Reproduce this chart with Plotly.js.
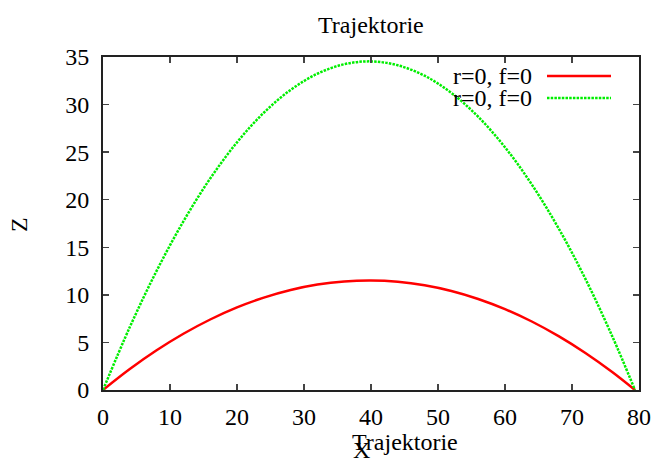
<!DOCTYPE html>
<html>
<head>
<meta charset="utf-8">
<script src="https://cdn.plot.ly/plotly-3.0.1.min.js"></script>
<style>html,body{margin:0;padding:0;background:#fff;}#chart{width:655px;height:461px;}</style>
</head>
<body>
<div id="chart"></div>
<script>
// data
const xValues = [0, 4, 8, 12, 16, 20, 24, 28, 32, 36, 40, 44, 48, 52, 56, 60, 64, 68, 72, 76, 79.4];
const zRed    = [0, 2.2, 4.17, 5.91, 7.41, 8.68, 9.71, 10.51, 11.08, 11.41, 11.51, 11.38, 11.01, 10.41, 9.57, 8.50, 7.20, 5.66, 3.89, 1.89, 0];
const zGreen  = [0, 6.61, 12.52, 17.72, 22.23, 26.03, 29.14, 31.54, 33.24, 34.24, 34.54, 34.13, 33.03, 31.22, 28.72, 25.51, 21.60, 16.99, 11.68, 5.66, 0];
const seriesNames = ["r=0, f=0", "r=0, f=0"];
const xTicks = [0, 10, 20, 30, 40, 50, 60, 70, 80];
const yTicks = [0, 5, 10, 15, 20, 25, 30, 35];
const titleText = "Trajektorie";
const xLabel = "X";
const yLabel = "Z";

const FONT = "Liberation Serif, Times New Roman, serif";
const FS = 24;
const W = 655, H = 461;
const L = 103, R = 16, T = 57, B = 71;
const PW = W - L - R, PH = H - T - B;
const fx = xPix => (xPix - L) / PW;      // pixel -> paper x
const fy = yPix => (H - B - yPix) / PH;  // pixel -> paper y

const traces = [
  {x: xValues, y: zRed, name: seriesNames[0], mode: "lines", line: {color: "#ff0000", width: 2.5, shape: "spline"}, showlegend: false},
  {x: xValues, y: zGreen, name: seriesNames[1], mode: "lines", line: {color: "#00ee00", width: 2.5, dash: "2.5px,1.2px", shape: "spline"}, showlegend: false}
];

// legend drawn gnuplot-style (text left of sample)
const legendRows = [
  {y: 76, color: "#ff0000", dash: "solid"},
  {y: 98, color: "#00ee00", dash: "2.5px,1.2px"}
];
const txtFont = {family: FONT, size: FS, color: "#000"};
const annotations = [
  {text: titleText, xref: "paper", yref: "paper", x: fx(371), y: fy(25), xanchor: "center", yanchor: "middle", showarrow: false, font: txtFont},
  {text: titleText, xref: "paper", yref: "paper", x: fx(405), y: fy(442), xanchor: "center", yanchor: "middle", showarrow: false, font: txtFont},
  {text: xLabel, xref: "paper", yref: "paper", x: fx(361), y: fy(450), xanchor: "center", yanchor: "middle", showarrow: false, font: txtFont},
  {text: yLabel, xref: "paper", yref: "paper", x: fx(19), y: fy(225), xanchor: "center", yanchor: "middle", textangle: -90, showarrow: false, font: txtFont}
];
const shapes = [];
legendRows.forEach((r, i) => {
  annotations.push({text: seriesNames[i], xref: "paper", yref: "paper", x: fx(534), y: fy(r.y), xanchor: "right", yanchor: "middle", showarrow: false, font: txtFont});
  shapes.push({type: "line", xref: "paper", yref: "paper", x0: fx(547), x1: fx(611), y0: fy(r.y), y1: fy(r.y), line: {color: r.color, width: 2.5, dash: r.dash}});
});

const axisCommon = {
  showgrid: false, zeroline: false, showline: true, mirror: "allticks",
  linecolor: "#222", linewidth: 2, ticks: "inside", ticklen: 6, tickwidth: 1.5, tickcolor: "#444",
  tickfont: txtFont
};

const layout = {
  width: W, height: H,
  margin: {l: L, r: R, t: T, b: B, pad: 0},
  paper_bgcolor: "#fff", plot_bgcolor: "#fff",
  xaxis: Object.assign({}, axisCommon, {range: [0, 80], tickvals: xTicks, ticktext: xTicks.map(String), ticklabelstandoff: 4}),
  yaxis: Object.assign({}, axisCommon, {range: [0, 35], tickvals: yTicks, ticktext: yTicks.map(String), ticklabelstandoff: 7}),
  annotations: annotations,
  shapes: shapes,
  showlegend: false
};

Plotly.newPlot("chart", traces, layout, {staticPlot: true, displayModeBar: false});
</script>
</body>
</html>
